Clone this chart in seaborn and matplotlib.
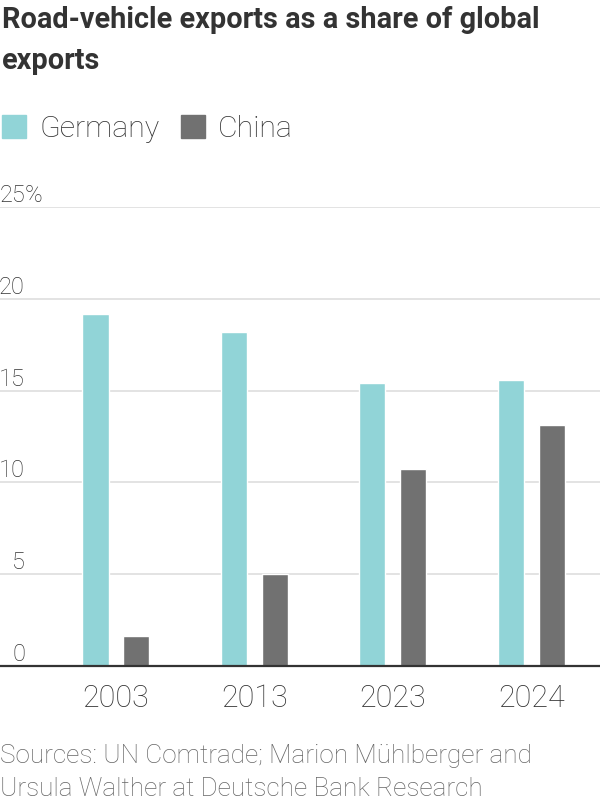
import numpy as np
import pandas as pd
import matplotlib
matplotlib.use("Agg")
import matplotlib.pyplot as plt
from matplotlib.patches import Rectangle
import seaborn as sns

years = ["2003", "2013", "2023", "2024"]
germany = [19.2, 18.2, 15.4, 15.6]
china = [1.6, 5.0, 10.7, 13.1]
series = ["Germany", "China"]
colors = ["#91d4d7", "#717171"]
y_ticks = [0, 5, 10, 15, 20, 25]

title = "Road-vehicle exports as a share of global\nexports"
source = "Sources: UN Comtrade; Marion Mühlberger and\nUrsula Walther at Deutsche Bank Research"

df = pd.DataFrame({
    "year": years * 2,
    "value": germany + china,
    "country": ["Germany"] * len(years) + ["China"] * len(years),
})

sns.set_style("white")
plt.rcParams["font.family"] = ["Roboto", "DejaVu Sans"]
plt.rcParams["font.weight"] = "light"

fig = plt.figure(figsize=(6, 8), dpi=100)
ax = fig.add_axes([0.0, 0.168, 1.0, 0.573])

sns.barplot(data=df, x="year", y="value", hue="country", hue_order=series,
            palette=colors, width=0.592, gap=0.365, saturation=1,
            legend=False, ax=ax)

ax.set_xlim(-0.838, 3.497)
ax.set_ylim(0, 25)
ax.set_xlabel("")
ax.set_ylabel("")
for s in ["left", "right", "top"]:
    ax.spines[s].set_visible(False)
ax.spines["bottom"].set_color("#333333")
ax.spines["bottom"].set_linewidth(1.6)
ax.spines["bottom"].set_zorder(5)

ax.set_yticks(y_ticks)
ax.yaxis.grid(True, color="#e3e3e3", linewidth=1.4)
ax.set_axisbelow(True)
ax.tick_params(axis="y", length=0, pad=-18, labelsize=17, labelcolor="#333333")
ax.set_yticklabels([str(v) for v in y_ticks])
for lab in ax.get_yticklabels():
    lab.set_horizontalalignment("right")
    lab.set_verticalalignment("bottom")
ax.annotate("%", xy=(0, y_ticks[-1]), xycoords=("axes fraction", "data"),
            xytext=(18, 0), textcoords="offset points", ha="left", va="bottom",
            fontsize=17, color="#333333")

ax.tick_params(axis="x", length=0, pad=13, labelsize=22, labelcolor="#333333")

# title
fig.text(0.003, 1 - 6 / 800, title, fontsize=20.8, fontweight="bold",
         color="#333333", ha="left", va="top", linespacing=1.6,
         family=["Liberation Sans Narrow", "Roboto", "DejaVu Sans"])

# legend
x0 = 2
for name, col in zip(series, colors):
    fig.patches.append(Rectangle((x0 / 600, 1 - 138 / 800), 24 / 600, 23 / 800,
                                 transform=fig.transFigure, color=col))
    t = fig.text((x0 + 37) / 600, 1 - 137 / 800, name, fontsize=21.8,
                 color="#333333", ha="left", va="baseline")
    x0 = 181

# source
fig.text(0.0, 1 - 744 / 800, source, fontsize=18.8, color="#666666",
         ha="left", va="top", linespacing=1.47)

fig.savefig("out.png", dpi=100)
